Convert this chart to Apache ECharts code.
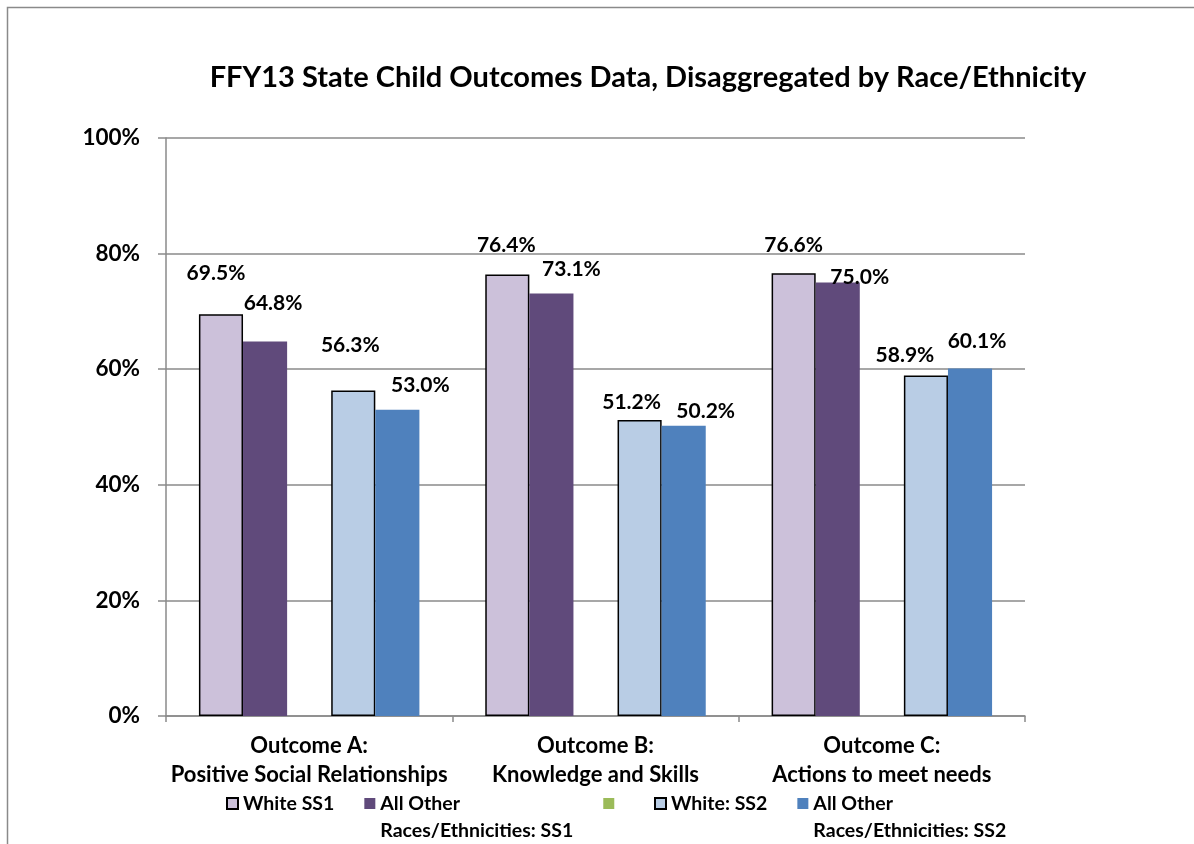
<!DOCTYPE html>
<html>
<head>
<meta charset="utf-8">
<script src="https://cdn.jsdelivr.net/npm/echarts@6/dist/echarts.min.js"></script>
<style>
html,body{margin:0;padding:0;background:#fff;}
#c{width:1194px;height:844px;}
</style>
</head>
<body>
<div id="c"></div>
<script>
const categories = ['Outcome A:\nPositive Social Relationships', 'Outcome B:\nKnowledge and Skills', 'Outcome C:\nActions to meet needs'];
const seriesNames = ['White SS1', 'All Other\nRaces/Ethnicities: SS1', ' ', 'White: SS2', 'All Other\nRaces/Ethnicities: SS2'];
const whiteSS1 = [69.5, 76.4, 76.6];
const otherSS1 = [64.8, 73.1, 75.0];
const emptySeries = [null, null, null];
const whiteSS2 = [56.3, 51.2, 58.9];
const otherSS2 = [53.0, 50.2, 60.1];
const yTicks = [0, 20, 40, 60, 80, 100];

// label placement (pixel offsets from bar top), matching the hand-placed labels
const labelOffsets = [
  [[-5,-41],[-1,-29],[0,-28]],
  [[8,-38],[20,-24],[22,-5]],
  [[0,0],[0,0],[0,0]],
  [[-3,-45],[-8,-18],[-21,-20]],
  [[23,-24],[22,-15],[7,-27]]
];
const colors = ['#CCC1DA', '#604A7B', '#9BBB59', '#B9CDE5', '#4F81BD'];
const borders = ['#000', null, null, '#000', null];
const allData = [whiteSS1, otherSS1, emptySeries, whiteSS2, otherSS2];

const FONT = 'Lato';

const series = allData.map((arr, si) => ({
  name: seriesNames[si],
  type: 'bar',
  barGap: '0%',
  barCategoryGap: '23%',
  itemStyle: {
    color: colors[si],
    borderColor: borders[si] || colors[si],
    borderWidth: borders[si] ? 1.5 : 0
  },
  label: {
    show: true,
    position: 'top',
    distance: 0,
    verticalAlign: 'middle',
    fontFamily: FONT,
    fontWeight: 'bold',
    fontSize: 21,
    color: '#000',
    formatter: p => p.value == null ? '' : p.value.toFixed(1) + '%'
  },
  data: arr.map((v, ci) => ({
    value: v,
    label: { offset: labelOffsets[si][ci] }
  }))
}));

const chart = echarts.init(document.getElementById('c'));
chart.setOption({
  animation: false,
  backgroundColor: '#fff',
  graphic: [{
    type: 'rect',
    shape: { x: 7.5, y: 7.5, width: 1400, height: 1200 },
    style: { fill: 'none', stroke: '#8a8a8a', lineWidth: 1.5 },
    silent: true
  }],
  title: {
    text: 'FFY13 State Child Outcomes Data, Disaggregated by Race/Ethnicity',
    left: 643,
    textAlign: 'center',
    top: 58,
    textStyle: { fontFamily: FONT, fontWeight: 'bold', fontSize: 29, color: '#000' }
  },
  legend: {
    data: seriesNames,
    formatter: n => n.indexOf('\n') >= 0 ? '\n' + n : n,
    icon: 'rect',
    left: 221,
    top: 758,
    itemWidth: 11,
    itemHeight: 11,
    itemGap: 30,
    selectedMode: false,
    textStyle: { fontFamily: FONT, fontWeight: 'bold', fontSize: 19.5, color: '#000', lineHeight: 27 }
  },
  grid: { left: 166, right: 169, top: 138, bottom: 128, containLabel: false },
  xAxis: {
    type: 'category',
    data: categories,
    axisLine: { lineStyle: { color: '#8a8a8a', width: 1.5 } },
    axisTick: { show: true, length: 6, lineStyle: { color: '#8a8a8a', width: 1.5 } },
    axisLabel: {
      interval: 0,
      margin: 15,
      fontFamily: FONT, fontWeight: 'bold', fontSize: 22, color: '#000',
      lineHeight: 29
    }
  },
  yAxis: {
    type: 'value',
    min: yTicks[0],
    max: yTicks[yTicks.length - 1],
    interval: yTicks[1] - yTicks[0],
    axisLine: { show: true, lineStyle: { color: '#8a8a8a', width: 1.5 } },
    axisTick: { show: true, length: 8, lineStyle: { color: '#8a8a8a', width: 1.5 } },
    splitLine: { show: true, lineStyle: { color: '#8a8a8a', width: 1.5 } },
    axisLabel: {
      margin: 26,
      formatter: '{value}%',
      fontFamily: FONT, fontWeight: 'bold', fontSize: 22.5, color: '#000'
    }
  },
  series: series
});
</script>
</body>
</html>
